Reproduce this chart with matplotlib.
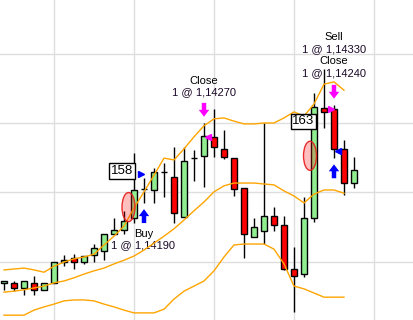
import numpy as np
import matplotlib
matplotlib.use('Agg')
from matplotlib import pyplot as plt
from matplotlib.patches import Rectangle, Ellipse

# OHLC of the candles
opens = [1.13954, 1.13954, 1.13943, 1.13954, 1.13939, 1.13954, 1.13999, 1.14008,
         1.13999, 1.14014, 1.14023, 1.14060, 1.14068, 1.14094, 1.14157, 1.14155,
         1.14194, 1.14183, 1.14097, 1.14224, 1.14229, 1.14270, 1.14244, 1.14224,
         1.14159, 1.14053, 1.14066, 1.14099, 1.14079, 1.13984, 1.13973, 1.14094,
         1.14332, 1.14330, 1.14244, 1.14170]
highs = [1.13958, 1.13958, 1.13958, 1.13969, 1.13954, 1.13999, 1.14014, 1.14016,
         1.14012, 1.14038, 1.14060, 1.14094, 1.14110, 1.14235, 1.14181, 1.14203,
         1.14213, 1.14248, 1.14248, 1.14242, 1.14300, 1.14330, 1.14285, 1.14224,
         1.14159, 1.14094, 1.14300, 1.14118, 1.14099, 1.14032, 1.14140, 1.14365,
         1.14417, 1.14339, 1.14263, 1.14226]
lows = [1.13939, 1.13936, 1.13928, 1.13928, 1.13939, 1.13954, 1.13990, 1.13984,
        1.13995, 1.13999, 1.14003, 1.14060, 1.14060, 1.14084, 1.14127, 1.14127,
        1.14140, 1.14084, 1.14097, 1.14174, 1.14161, 1.14226, 1.14222, 1.14142,
        1.14008, 1.14053, 1.14038, 1.14066, 1.13982, 1.13891, 1.13967, 1.14086,
        1.14289, 1.14224, 1.14144, 1.14159]
closes = [1.13958, 1.13943, 1.13958, 1.13939, 1.13954, 1.13999, 1.14003, 1.13999,
          1.14012, 1.14029, 1.14060, 1.14068, 1.14088, 1.14155, 1.14157, 1.14194,
          1.14194, 1.14105, 1.14218, 1.14224, 1.14272, 1.14248, 1.14226, 1.14157,
          1.14060, 1.14075, 1.14099, 1.14079, 1.13984, 1.13969, 1.14094, 1.14335,
          1.14324, 1.14244, 1.14170, 1.14198]

# bollinger bands
upper = [1.13982, 1.13984, 1.13986, 1.13982, 1.13977, 1.13990, 1.13999, 1.14006,
         1.14010, 1.14016, 1.14036, 1.14055, 1.14077, 1.14116, 1.14151, 1.14187,
         1.14224, 1.14220, 1.14244, 1.14270, 1.14294, 1.14309, 1.14311, 1.14304,
         1.14298, 1.14298, 1.14300, 1.14300, 1.14311, 1.14324, 1.14315, 1.14341,
         1.14384, 1.14389, 1.14371]
middle = [1.13934, 1.13936, 1.13939, 1.13943, 1.13947, 1.13954, 1.13958, 1.13965,
          1.13973, 1.13980, 1.13986, 1.13995, 1.14003, 1.14012, 1.14025, 1.14040,
          1.14055, 1.14071, 1.14090, 1.14110, 1.14129, 1.14151, 1.14164, 1.14170,
          1.14170, 1.14170, 1.14168, 1.14166, 1.14153, 1.14142, 1.14127, 1.14146,
          1.14155, 1.14155, 1.14148]
lower = [1.13884, 1.13884, 1.13884, 1.13895, 1.13902, 1.13908, 1.13915, 1.13917,
         1.13917, 1.13915, 1.13908, 1.13902, 1.13895, 1.13889, 1.13889, 1.13889,
         1.13897, 1.13919, 1.13936, 1.13947, 1.13958, 1.13980, 1.14010, 1.14036,
         1.14038, 1.14038, 1.14038, 1.14027, 1.13995, 1.13947, 1.13941, 1.13932,
         1.13923, 1.13923, 1.13923]

# trades
trade_bars = [14, 20, 33, 33]
trade_prices = [1.14190, 1.14270, 1.14330, 1.14240]
trade_names = ['Buy', 'Close', 'Sell', 'Close']
trade_texts = ['1 @ 1,14190', '1 @ 1,14270', '1 @ 1,14330', '1 @ 1,14240']

plt.rcParams['font.family'] = ['Liberation Sans', 'DejaVu Sans']

fig = plt.figure(figsize=(4.13, 3.2), dpi=100)
ax = fig.add_axes([0, 0, 1, 1])
ax.set_xlim(-0.4, 40.9)
ax.set_ylim(1.138736, 1.145662)

bars = np.arange(len(opens))

# wicks and bodies
ax.vlines(bars, lows, highs, color='black', lw=1, zorder=2)
for i in bars:
    o, c = opens[i], closes[i]
    col = '#90ee90' if c >= o else '#ff0000'
    ax.add_patch(Rectangle((i - 0.31, min(o, c)), 0.62, abs(c - o),
                           fc=col, ec='black', lw=1, zorder=3))

nb = len(upper)
for band in (upper, middle, lower):
    ax.plot(bars[:nb], band, color='#ffa500', lw=1, zorder=4)

blue = '#0000ff'
mag = '#ff00ff'
txtcol = '#1a0826'
arrow = dict(arrowstyle='simple,head_length=0.5,head_width=0.75,tail_width=0.32',
             mutation_scale=10, lw=0, shrinkA=0, shrinkB=4.5)

# fill markers (triangles next to the bar)
ax.plot(trade_bars[0] - 0.35, trade_prices[0], marker='>', color=blue, ms=5, zorder=6)
ax.plot(trade_bars[1] + 0.35, trade_prices[1], marker='<', color=mag, ms=5, zorder=6)
ax.plot(trade_bars[2] - 0.35, trade_prices[2], marker='>', color=mag, ms=5, zorder=6)
ax.plot(trade_bars[3] + 0.35, trade_prices[3], marker='<', color=blue, ms=5, zorder=6)

# arrows: up below lows, down above highs
for b, col, up in [(14, blue, True), (33, blue, True), (20, mag, False), (33, mag, False)]:
    if up:
        ax.annotate('', xy=(b, lows[b]), xytext=(0, -14.5), textcoords='offset points',
                    arrowprops=dict(arrow, color=col), zorder=6)
    else:
        ax.annotate('', xy=(b, highs[b]), xytext=(0, 14.5), textcoords='offset points',
                    arrowprops=dict(arrow, color=col), zorder=6)

# trade texts
b = trade_bars[0]
ax.annotate(trade_names[0], xy=(b, lows[b]), xytext=(0, -22.5),
            textcoords='offset points', ha='center', va='center', fontsize=8)
ax.annotate(trade_texts[0], xy=(b, lows[b]), xytext=(-1, -30.5),
            textcoords='offset points', ha='center', va='center', fontsize=8,
            color=txtcol)

b = trade_bars[1]
ax.annotate(trade_names[1], xy=(b, highs[b]), xytext=(0, 30.5),
            textcoords='offset points', ha='center', va='center', fontsize=8)
ax.annotate(trade_texts[1], xy=(b, highs[b]), xytext=(0, 22.5),
            textcoords='offset points', ha='center', va='center', fontsize=8,
            color=txtcol)

b = trade_bars[2]
for k, off in zip([2, 3], [49, 31.5]):
    ax.annotate(trade_names[k], xy=(b, highs[b]), xytext=(0, off),
                textcoords='offset points', ha='center', va='center', fontsize=8)
    ax.annotate(trade_texts[k], xy=(b, highs[b]), xytext=(0, off - 8.5),
                textcoords='offset points', ha='center', va='center', fontsize=8,
                color=txtcol)

# highlight ellipses
for cx, cy in [(12.45, 1.14118), (30.6, 1.14229)]:
    ax.add_patch(Ellipse((cx, cy), 1.3, 0.00063, fc=(1, 0, 0, 0.25),
                         ec=(0.9, 0.1, 0.1, 0.9), lw=1, zorder=5))

# level boxes
box = dict(boxstyle='square,pad=0.12', fc='white', ec='black', lw=1)
ax.text(11.8, 1.14196, '158', ha='center', va='center', fontsize=9.5, bbox=box, zorder=7)
ax.text(29.95, 1.14304, '163', ha='center', va='center', fontsize=9.5, bbox=box, zorder=7)

ax.set_xticks([5, 13, 21, 29, 37])
ax.set_yticks([1.1400, 1.1415, 1.1430, 1.1445])
ax.grid(True, color='#dedede', lw=1)
ax.set_axisbelow(True)
ax.tick_params(length=0, labelbottom=False, labelleft=False)
for s in ax.spines.values():
    s.set_visible(False)

fig.savefig('out.png', dpi=100)
